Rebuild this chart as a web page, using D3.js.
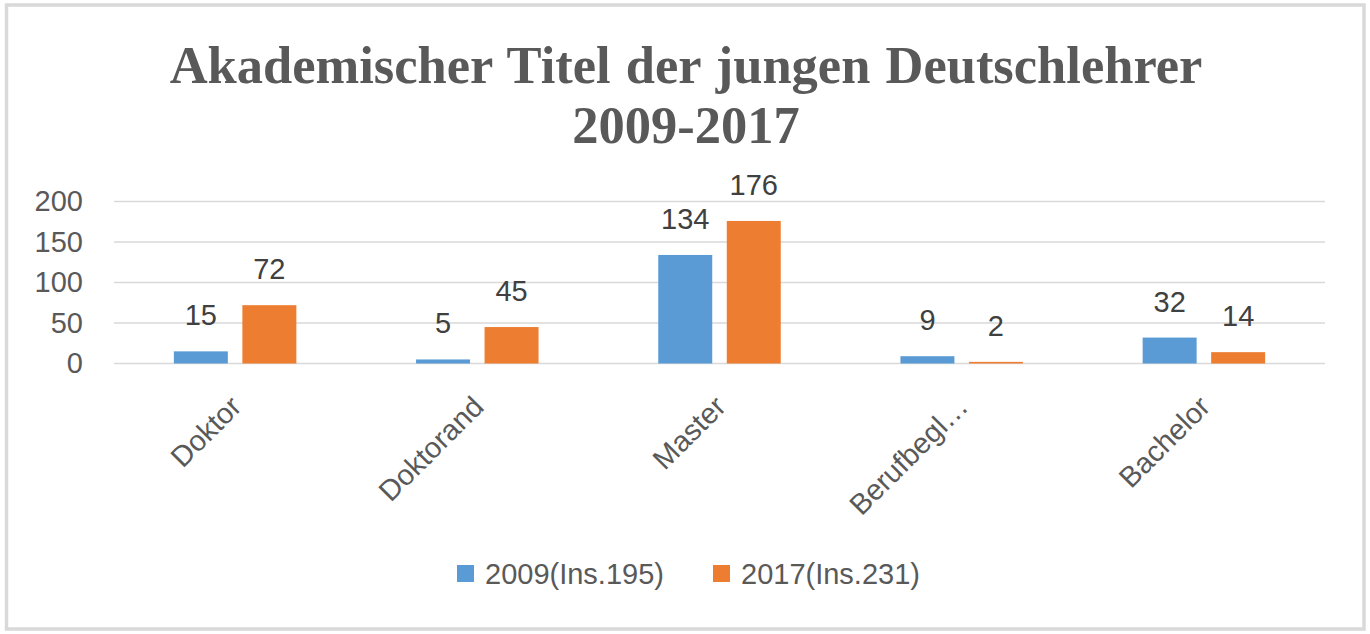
<!DOCTYPE html>
<html>
<head>
<meta charset="utf-8">
<script src="https://cdn.jsdelivr.net/npm/d3@7"></script>
<style>
html,body{margin:0;padding:0;background:#fff;}
svg{display:block;}
</style>
</head>
<body>
<svg id="chart" width="1370" height="634"></svg>
<script>
const titleLines = ["Akademischer Titel der jungen Deutschlehrer", "2009-2017"];
const categories = ["Doktor", "Doktorand", "Master", "Berufbegl…", "Bachelor"];
const seriesNames = ["2009(Ins.195)", "2017(Ins.231)"];
const values2009 = [15, 5, 134, 9, 32];
const values2017 = [72, 45, 176, 2, 14];
const yTicks = [0, 50, 100, 150, 200];
const colors = ["#5B9BD5", "#ED7D31"];

const seriesValues = [values2009, values2017];
const svg = d3.select("#chart");
const textColor = "#595959";
const font = "'Liberation Sans', Arial, sans-serif";

// frame
svg.append("rect").attr("x", 6.5).attr("y", 5).attr("width", 1357.5).attr("height", 624)
  .attr("fill", "#fff").attr("stroke", "#d9d9d9").attr("stroke-width", 3.5);

// title
svg.append("g").selectAll("text").data(titleLines).join("text")
  .attr("x", 686).attr("y", (d, i) => i === 0 ? 83 : 143)
  .attr("text-anchor", "middle")
  .attr("font-family", "'Liberation Serif', 'Times New Roman', serif")
  .attr("font-weight", "bold").attr("font-size", 52.5)
  .attr("word-spacing", 2)
  .attr("fill", textColor)
  .text(d => d);

const x0 = d3.scaleBand().domain(categories).range([114, 1325]).padding(0);
const x1 = d3.scaleBand().domain(seriesNames).range([-61.25, 61.25]).paddingInner(0.212).paddingOuter(0);
const y = d3.scaleLinear().domain([0, 200]).range([363.5, 201.5]);

// gridlines
svg.append("g").selectAll("line").data(yTicks).join("line")
  .attr("x1", 114).attr("x2", 1325)
  .attr("y1", d => y(d)).attr("y2", d => y(d))
  .attr("stroke", "#d9d9d9").attr("stroke-width", 1.5);

// y axis labels
const yAxis = d3.axisLeft(y).tickValues(yTicks).tickSize(0).tickPadding(0);
const yg = svg.append("g").attr("transform", "translate(83,0)").call(yAxis);
yg.select(".domain").remove();
yg.selectAll("text").attr("font-family", font).attr("font-size", 29).attr("fill", textColor);

// bars
const groups = svg.append("g").selectAll("g").data(categories).join("g")
  .attr("transform", d => `translate(${x0(d) + x0.bandwidth() / 2},0)`);
groups.selectAll("rect").data((d, i) => seriesNames.map((s, j) => ({s, j, v: seriesValues[j][i]}))).join("rect")
  .attr("x", d => x1(d.s)).attr("width", x1.bandwidth())
  .attr("y", d => y(d.v)).attr("height", d => y(0) - y(d.v))
  .attr("fill", d => colors[d.j]);
groups.selectAll("text").data((d, i) => seriesNames.map((s, j) => ({s, j, v: seriesValues[j][i]}))).join("text")
  .attr("x", d => x1(d.s) + x1.bandwidth() / 2).attr("y", d => y(d.v) - 26)
  .attr("text-anchor", "middle").attr("font-family", font).attr("font-size", 29)
  .attr("fill", "#404040").text(d => d.v);

// x axis labels
const xAxis = d3.axisBottom(x0).tickSize(0).tickPadding(0);
const xg = svg.append("g").attr("transform", "translate(0,363.5)").call(xAxis);
xg.select(".domain").remove();
xg.selectAll("text")
  .attr("font-family", font).attr("font-size", 29).attr("fill", textColor)
  .attr("text-anchor", "end").attr("dy", null)
  .attr("x", 0).attr("y", 0)
  .attr("transform", "translate(8,45) rotate(-45)");

// legend
const legendX = [457, 713];
const lg = svg.append("g").selectAll("g").data(seriesNames).join("g")
  .attr("transform", (d, i) => `translate(${legendX[i]},0)`);
lg.append("rect").attr("x", 0).attr("y", 565).attr("width", 17).attr("height", 17)
  .attr("fill", (d, i) => colors[i]);
lg.append("text").attr("x", 28).attr("y", 584)
  .attr("font-family", font).attr("font-size", 29).attr("fill", textColor)
  .text(d => d);
</script>
</body>
</html>
